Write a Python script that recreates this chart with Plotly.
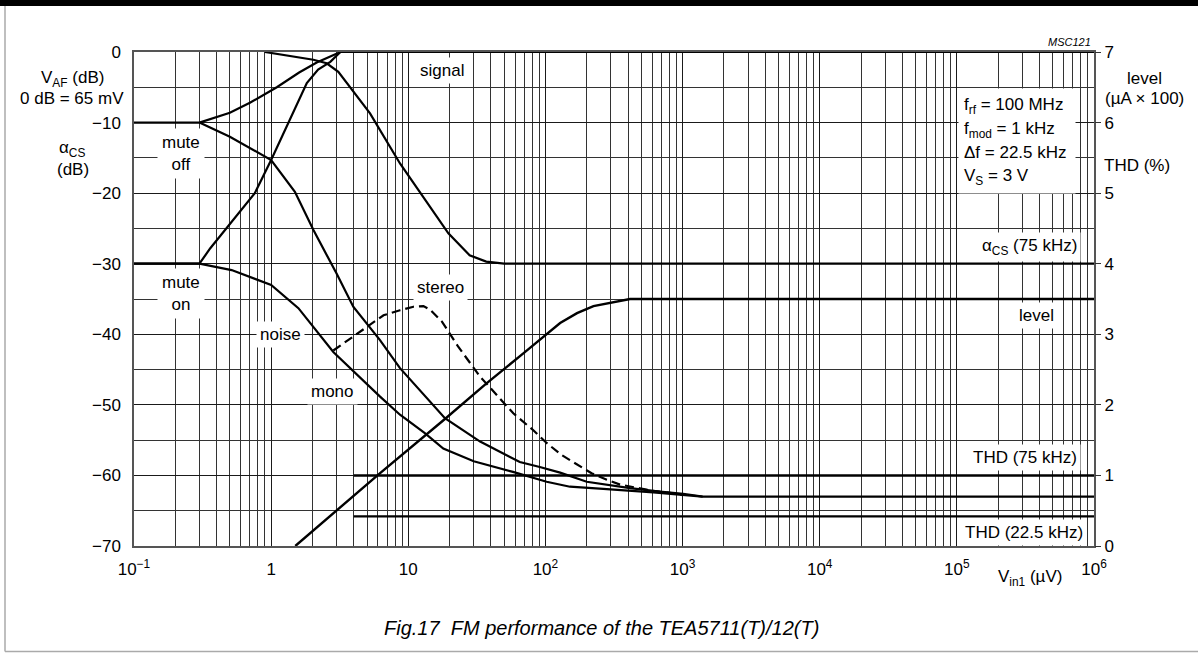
import plotly.graph_objects as go

# ---------------- data (Vin1 in µV) ----------------
signal_off_x = [0.1, 0.3, 0.5, 0.7, 1.1, 1.6, 2.15, 3.2, 1e6]
signal_off_db = [-10, -10, -8.6, -7.2, -5.0, -2.9, -1.5, 0, 0]

signal_on_x = [0.1, 0.3, 0.36, 0.47, 0.76, 1.0, 1.37, 1.82, 2.2, 2.7, 3.2]
signal_on_db = [-30, -30, -27.8, -25, -20, -15.3, -9.6, -4.4, -2.5, -1.4, 0]

acs_x = [0.9, 2.03, 2.54, 3.09, 5.26, 8.7, 19.6, 28, 37, 50, 1e6]
acs_db = [0, -1.1, -1.6, -2.8, -8.7, -15.8, -25.7, -28.8, -29.7, -30, -30]

noise_off_x = [0.3, 0.5, 1.0, 1.49, 2.03, 3.0, 3.97, 6.2, 8.7, 18.5, 33.4, 65, 91,
               128, 200, 296, 414, 684, 1010, 1400, 1e6]
noise_off_db = [-10, -12, -15.3, -19.8, -25.2, -31.4, -36.1, -40.8, -44.8, -51.9, -55.2,
                -58.1, -58.8, -59.6, -60.9, -61.4, -61.8, -62.3, -62.6, -63.0, -63.0]

noise_mono_x = [0.1, 0.3, 0.515, 1.0, 1.58, 2.84, 6.2, 8.7, 13.2, 18, 30, 58, 102,
                151, 264, 612, 1400]
noise_mono_db = [-30, -30, -30.9, -33.0, -36.3, -42.5, -48.8, -51.4, -54.0, -56.2, -58.0,
                 -59.5, -60.9, -61.6, -61.9, -62.4, -63.0]

noise_stereo_x = [2.84, 4.97, 6.6, 8.7, 10.9, 12.9, 14.4, 17.6, 20.1, 23.2, 33.4, 58.3,
                  81.6, 102, 131, 164, 217, 280, 350, 450, 612, 766, 1000]
noise_stereo_db = [-42.3, -38.9, -37.3, -36.6, -36.1, -36.0, -36.5, -38.2, -39.9, -41.8,
                   -46.0, -51.2, -53.6, -55.4, -57.1, -58.3, -59.7, -60.6, -61.3, -61.7,
                   -62.2, -62.4, -62.8]

level_x = [1.5, 3.0, 6.2, 18.5, 37, 69, 100, 128, 170, 224, 414, 1e6]
level_ua100 = [0, 0.5, 1.03, 1.8, 2.3, 2.73, 2.99, 3.16, 3.3, 3.40, 3.5, 3.5]

thd75_x = [4, 1e6]
thd75_pct = [1.0, 1.0]
thd22_x = [4, 1e6]
thd22_pct = [0.42, 0.42]

# axis ticks
x_major_vals = [0.1, 1, 10, 100, 1000, 1e4, 1e5, 1e6]
x_major_text = ["10<sup>−1</sup>", "1", "10", "10<sup>2</sup>", "10<sup>3</sup>",
                "10<sup>4</sup>", "10<sup>5</sup>", "10<sup>6</sup>"]
x_minor_vals = [m * 10 ** d for d in [-1, 0, 1, 2, 3, 4, 5] for m in range(2, 10)]
y_major_vals = [-70, -60, -50, -40, -30, -20, -10, 0]
y_major_text = ["−70", "−60", "−50", "−40", "−30", "−20", "−10", "0"]
y_minor_vals = [-65, -55, -45, -35, -25, -15, -5]
y2_tick_vals = [0, 1, 2, 3, 4, 5, 6, 7]

# ---------------- figure ----------------
W, H = 1198, 653
L, R, T, B = 134, 104, 52, 107
FONT = "Liberation Sans, Arial, Helvetica, sans-serif"


def PX(x):
    return (x - L) / (W - L - R)


def PY(y):
    return (H - B - y) / (H - T - B)


fig = go.Figure()
line_style = dict(color="black", width=2.2)

for xs, ys in [(signal_off_x, signal_off_db), (signal_on_x, signal_on_db),
               (acs_x, acs_db), (noise_off_x, noise_off_db), (noise_mono_x, noise_mono_db)]:
    fig.add_trace(go.Scatter(x=xs, y=ys, mode="lines", line=line_style,
                             hoverinfo="skip", showlegend=False))

fig.add_trace(go.Scatter(x=noise_stereo_x, y=noise_stereo_db, mode="lines",
                         line=dict(color="black", width=2.2, dash="9px,5px"),
                         hoverinfo="skip", showlegend=False))

for xs, ys in [(level_x, level_ua100), (thd75_x, thd75_pct), (thd22_x, thd22_pct)]:
    fig.add_trace(go.Scatter(x=xs, y=ys, mode="lines", line=dict(color="black", width=2.4),
                             yaxis="y2", hoverinfo="skip", showlegend=False))

fig.update_layout(
    width=W, height=H,
    margin=dict(l=L, r=R, t=T, b=B, pad=0),
    paper_bgcolor="white", plot_bgcolor="white",
    font=dict(family=FONT, size=17, color="black"),
    xaxis=dict(type="log", range=[-1, 6], tickmode="array", tickvals=x_major_vals,
               ticktext=x_major_text,
               showgrid=True, gridcolor="#1a1a1a", gridwidth=1, ticks="",
               minor=dict(tickmode="array", tickvals=x_minor_vals, showgrid=True,
                          gridcolor="#333333", gridwidth=1, ticks=""),
               showline=True, linecolor="#555555", linewidth=1.5, mirror=True,
               zeroline=False, layer="below traces", ticklabelstandoff=7,
               tickfont=dict(size=17)),
    yaxis=dict(range=[-70, 0], tickmode="array", tickvals=y_major_vals,
               ticktext=y_major_text,
               showgrid=True, gridcolor="#1a1a1a", gridwidth=1, ticks="",
               minor=dict(tickmode="array", tickvals=y_minor_vals, showgrid=True,
                          gridcolor="#333333", gridwidth=1, ticks=""),
               showline=True, linecolor="#555555", linewidth=1.5, mirror=True,
               zeroline=False, layer="below traces", ticklabelstandoff=8,
               tickfont=dict(size=17)),
    yaxis2=dict(range=[0, 7], overlaying="y", side="right", tickmode="array",
                tickvals=y2_tick_vals, ticktext=[str(v) for v in y2_tick_vals],
                showgrid=False, zeroline=False, ticks="outside", ticklen=6,
                tickcolor="#333333", tickwidth=1.2, showline=False,
                tickfont=dict(size=17)),
)

annotations = []


def ann(text, x, y, xanchor="center", size=17, bg=None, italic=False, align="center",
        yanchor="middle", pad=2):
    d = dict(text=text, x=PX(x), y=PY(y), xref="paper", yref="paper", showarrow=False,
             xanchor=xanchor, yanchor=yanchor, align=align,
             font=dict(family=FONT, size=size, color="black",
                       style="italic" if italic else "normal"),
             borderpad=pad)
    if bg:
        d["bgcolor"] = bg
    annotations.append(d)


# left axis titles
ann("V<sub>AF</sub> (dB)", 72, 79)
ann("0 dB = 65 mV", 72, 99)
ann("α<sub>CS</sub>", 72, 149)
ann("(dB)", 73, 169)
# right axis titles
ann("level", 1144, 78)
ann("(µA × 100)", 1144, 98)
ann("THD (%)", 1137, 165)
# x axis title
ann("V<sub>in1</sub> (µV)", 1030, 578)
# curve labels
ann("mute<br>off", 181, 153, bg="white", pad=4)
ann("mute<br>on", 181, 293, bg="white", pad=4)
ann("noise", 280, 334, bg="white", pad=3)
ann("mono", 332, 391, bg="white", pad=3)
ann("stereo", 440, 287, bg="white", pad=3)
ann("signal", 442, 70, bg="white", pad=3)
ann("α<sub>CS</sub> (75 kHz)", 1081, 247, xanchor="right", bg="white", pad=3)
ann("level", 1036, 316, bg="white", pad=3)
ann("THD (75 kHz)", 1081, 457, xanchor="right", bg="white", pad=3)
ann("THD (22.5 kHz)", 1087, 532, xanchor="right", bg="white", pad=3)
# conditions box
annotations.append(dict(text=" ", x=PX(958), y=PY(88), xref="paper", yref="paper",
                        xanchor="left", yanchor="top", width=116, height=104,
                        bgcolor="white", showarrow=False, borderpad=0))
ann("f<sub>rf</sub> = 100 MHz", 961, 106, xanchor="left")
ann("f<sub>mod</sub> = 1 kHz", 961, 130, xanchor="left")
ann("Δf = 22.5 kHz", 961, 152, xanchor="left")
ann("V<sub>S</sub> = 3 V", 961, 177, xanchor="left")
# figure marks
ann("MSC121", 1094, 42, xanchor="right", size=11, italic=True)
ann("Fig.17  FM performance of the TEA5711(T)/12(T)", 601, 628, size=20, italic=True)

fig.update_layout(annotations=annotations)

# outer frame
shapes = [
    dict(type="rect", xref="paper", yref="paper", x0=PX(-2), x1=PX(W + 2), y0=PY(6),
         y1=PY(-2), fillcolor="black", line=dict(width=0), layer="above"),
    dict(type="line", xref="paper", yref="paper", x0=PX(5), x1=PX(5), y0=PY(6),
         y1=PY(651.5), line=dict(color="#aaaaaa", width=1.5)),
    dict(type="line", xref="paper", yref="paper", x0=PX(5), x1=PX(W), y0=PY(651.5),
         y1=PY(651.5), line=dict(color="#aaaaaa", width=1.5)),
]
fig.update_layout(shapes=shapes)

fig.write_html("out.html", config={"displayModeBar": False},
               post_script="document.body.style.margin='0';")
